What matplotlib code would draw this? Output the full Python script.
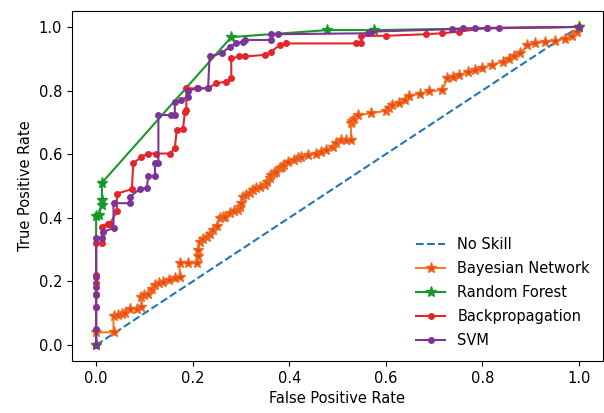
import matplotlib
matplotlib.use('Agg')
import matplotlib.pyplot as plt

# no skill line
ns_fpr = [0.0, 1.0]
ns_tpr = [0.0, 1.0]

# Bayesian Network
bn_fpr = [0.0, 0.0, 0.036, 0.036, 0.046, 0.053, 0.06, 0.07, 0.085, 0.094, 0.094, 0.1, 0.108,
          0.115, 0.122, 0.13, 0.139, 0.15, 0.163, 0.173, 0.173, 0.19, 0.208, 0.211, 0.211,
          0.215, 0.222, 0.229, 0.236, 0.242, 0.25, 0.256, 0.262, 0.267, 0.277, 0.286, 0.294,
          0.298, 0.301, 0.304, 0.311, 0.318, 0.325, 0.332, 0.339, 0.349, 0.355, 0.36, 0.363,
          0.368, 0.372, 0.38, 0.385, 0.39, 0.397, 0.41, 0.418, 0.425, 0.44, 0.456, 0.466,
          0.476, 0.49, 0.497, 0.507, 0.518, 0.528, 0.528, 0.531, 0.535, 0.542, 0.57, 0.6,
          0.607, 0.614, 0.628, 0.64, 0.649, 0.67, 0.69, 0.717, 0.728, 0.74, 0.752, 0.77,
          0.786, 0.80, 0.821, 0.842, 0.856, 0.866, 0.879, 0.893, 0.91, 0.931, 0.95, 0.972,
          0.986, 0.996, 1.0]
bn_tpr = [0.0, 0.04, 0.04, 0.09, 0.094, 0.097, 0.10, 0.115, 0.115, 0.12, 0.152, 0.157, 0.162,
          0.175, 0.189, 0.194, 0.199, 0.205, 0.21, 0.215, 0.257, 0.257, 0.257, 0.28, 0.30,
          0.325, 0.332, 0.34, 0.35, 0.362, 0.375, 0.398, 0.401, 0.404, 0.414, 0.42, 0.425,
          0.435, 0.446, 0.466, 0.471, 0.477, 0.487, 0.493, 0.498, 0.503, 0.514, 0.525, 0.535,
          0.54, 0.545, 0.556, 0.561, 0.566, 0.576, 0.582, 0.587, 0.592, 0.597, 0.602, 0.607,
          0.613, 0.624, 0.634, 0.645, 0.645, 0.645, 0.697, 0.704, 0.71, 0.723, 0.728, 0.737,
          0.746, 0.755, 0.76, 0.77, 0.783, 0.79, 0.797, 0.802, 0.838, 0.843, 0.849, 0.857,
          0.865, 0.872, 0.881, 0.891, 0.90, 0.907, 0.917, 0.943, 0.948, 0.954, 0.957, 0.962,
          0.97, 0.985, 1.0]

# Random Forest
rf_fpr = [0.0, 0.0, 0.005, 0.012, 0.012, 0.012, 0.28, 0.479, 0.576, 1.0]
rf_tpr = [0.0, 0.405, 0.41, 0.44, 0.455, 0.51, 0.968, 0.99, 0.99, 1.0]

# Backpropagation
bp_fpr = [0.0, 0.0, 0.0, 0.0, 0.0, 0.0, 0.012, 0.012, 0.025, 0.029, 0.043, 0.043, 0.074,
          0.077, 0.094, 0.108, 0.125, 0.153, 0.163, 0.167, 0.18, 0.184, 0.187, 0.187, 0.21,
          0.232, 0.249, 0.27, 0.28, 0.28, 0.297, 0.308, 0.349, 0.363, 0.38, 0.394, 0.538,
          0.549, 0.549, 0.6, 0.683, 0.717, 0.752, 0.81, 1.0]
bp_tpr = [0.0, 0.12, 0.16, 0.195, 0.22, 0.32, 0.32, 0.372, 0.382, 0.382, 0.42, 0.476, 0.49,
          0.571, 0.592, 0.602, 0.602, 0.602, 0.618, 0.676, 0.68, 0.734, 0.739, 0.807, 0.807,
          0.807, 0.823, 0.828, 0.838, 0.901, 0.907, 0.907, 0.912, 0.922, 0.943, 0.948, 0.948,
          0.948, 0.972, 0.972, 0.977, 0.98, 0.985, 0.997, 1.0]

# SVM
svm_fpr = [0.0, 0.0, 0.0, 0.0, 0.0, 0.0, 0.0, 0.012, 0.015, 0.036, 0.036, 0.07, 0.07, 0.09,
           0.105, 0.108, 0.122, 0.122, 0.129, 0.129, 0.156, 0.163, 0.163, 0.175, 0.19, 0.19,
           0.211, 0.232, 0.235, 0.26, 0.277, 0.29, 0.305, 0.308, 0.363, 0.363, 0.377, 0.563,
           0.57, 0.738, 0.76, 0.786, 0.81, 0.834, 1.0]
svm_tpr = [0.0, 0.05, 0.12, 0.157, 0.183, 0.215, 0.336, 0.336, 0.356, 0.368, 0.446, 0.446,
           0.466, 0.49, 0.495, 0.53, 0.53, 0.571, 0.571, 0.723, 0.723, 0.723, 0.765, 0.77,
           0.78, 0.80, 0.807, 0.807, 0.907, 0.917, 0.938, 0.948, 0.954, 0.959, 0.959, 0.978,
           0.977, 0.98, 0.985, 0.993, 0.995, 0.996, 0.996, 0.996, 1.0]

plt.rcParams['font.size'] = 10.5

fig = plt.figure(figsize=(6.04, 4.13), dpi=100)
ax = fig.add_axes([0.1192, 0.1259, 0.879, 0.8475])

ax.plot(ns_fpr, ns_tpr, linestyle='--', color='#1f77b4', label='No Skill')
ax.plot(bn_fpr, bn_tpr, marker='*', markersize=8, color='#f57c1f',
        markerfacecolor='#e8461e', markeredgecolor='#f06a1e', label='Bayesian Network')
ax.plot(rf_fpr, rf_tpr, marker='*', markersize=8, color='#17982b', label='Random Forest')
ax.plot(bp_fpr, bp_tpr, marker='.', markersize=8, color='#e3262b', label='Backpropagation')
ax.plot(svm_fpr, svm_tpr, marker='.', markersize=8, color='#7d3595', label='SVM')

ax.set_xlabel('False Positive Rate')
ax.set_ylabel('True Positive Rate')
ax.set_xticks([0.0, 0.2, 0.4, 0.6, 0.8, 1.0])
ax.set_yticks([0.0, 0.2, 0.4, 0.6, 0.8, 1.0])
ax.legend(loc='lower right', frameon=False, labelspacing=0.62)

fig.savefig('out.png', dpi=100)
